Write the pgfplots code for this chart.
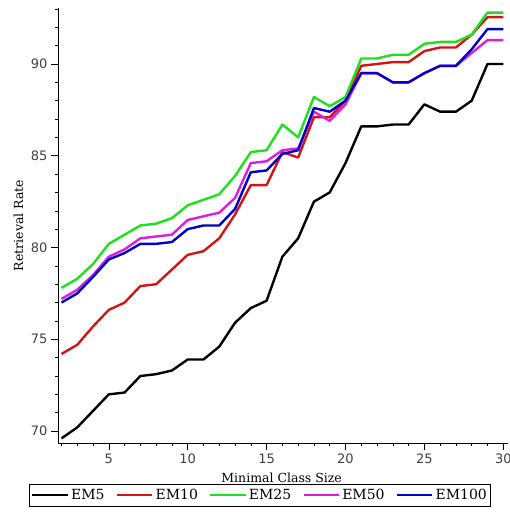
\documentclass[border=0pt]{standalone}
\usepackage{fontspec}
\setmainfont{DejaVu Serif}
\newfontfamily\ticksans{DejaVu Sans}
\usepackage{pgfplots}
\pgfplotsset{compat=1.18}
\definecolor{cBlack}{RGB}{0,0,0}
\definecolor{cRed}{RGB}{210,20,20}
\definecolor{cGreen}{RGB}{30,225,30}
\definecolor{cMag}{RGB}{220,30,220}
\definecolor{cBlue}{RGB}{0,0,200}
\begin{document}
\begin{tikzpicture}
\begin{axis}[
  scale only axis,
  width=450pt, height=435pt,
  xmin=1.78, xmax=30.3, ymin=69.35, ymax=93.05,
  axis lines=left,
  axis line style={-, line width=0.8pt},
  xtick={5,10,15,20,25,30},
  ytick={70,75,80,85,90},
  minor xtick={2,...,30},
  minor ytick={70,...,93},
  tick align=outside,
  major tick length=7pt,
  minor tick length=3pt,
  tick style={black, line width=0.6pt},
  /pgf/number format/assume math mode=true,
  tick label style={font=\ticksans\fontsize{13}{13}\selectfont, text=black!75},
  xlabel={Minimal Class Size},
  ylabel={Retrieval Rate},
  every axis x label/.style={at={(axis description cs:0.497,-0.0805)}, anchor=center, font=\fontsize{12.5}{12.5}\selectfont},
  every axis y label/.style={at={(axis description cs:-0.0878,0.5)}, rotate=90, anchor=center, font=\fontsize{12.5}{12.5}\selectfont},
  legend columns=5,
  legend style={at={(0.449,-0.094)}, anchor=north, draw=black, line width=0.8pt,
    font=\fontsize{14}{14}\selectfont, inner xsep=1.5pt, inner ysep=3pt,
    /tikz/every even column/.append style={column sep=9pt}},
  legend image post style={line width=2.4pt},
  legend image code/.code={\draw[#1] (0cm,0cm) -- (1.25cm,0cm);},
  every axis plot/.append style={line width=2.4pt, line join=round},
]
\addplot[cBlack] coordinates {
(2,69.6)(3,70.2)(4,71.1)(5,72.0)(6,72.1)(7,73.0)(8,73.1)(9,73.3)(10,73.9)(11,73.9)
(12,74.6)(13,75.9)(14,76.7)(15,77.1)(16,79.5)(17,80.5)(18,82.5)(19,83.0)(20,84.6)
(21,86.6)(22,86.6)(23,86.7)(24,86.7)(25,87.8)(26,87.4)(27,87.4)(28,88.0)(29,90.0)(30,90.0)};
\addlegendentry{EM5}
\addplot[cRed] coordinates {
(2,74.2)(3,74.7)(4,75.7)(5,76.6)(6,77.0)(7,77.9)(8,78.0)(9,78.8)(10,79.6)(11,79.8)
(12,80.5)(13,81.8)(14,83.4)(15,83.4)(16,85.2)(17,84.9)(18,87.1)(19,87.1)(20,88.0)
(21,89.9)(22,90.0)(23,90.1)(24,90.1)(25,90.7)(26,90.9)(27,90.9)(28,91.6)(29,92.55)(30,92.55)};
\addlegendentry{EM10}
\addplot[cGreen] coordinates {
(2,77.8)(3,78.3)(4,79.1)(5,80.2)(6,80.7)(7,81.2)(8,81.3)(9,81.6)(10,82.3)(11,82.6)
(12,82.9)(13,83.9)(14,85.2)(15,85.3)(16,86.7)(17,86.0)(18,88.2)(19,87.7)(20,88.2)
(21,90.3)(22,90.3)(23,90.5)(24,90.5)(25,91.1)(26,91.2)(27,91.2)(28,91.6)(29,92.8)(30,92.8)};
\addlegendentry{EM25}
\addplot[cMag] coordinates {
(2,77.2)(3,77.7)(4,78.5)(5,79.5)(6,79.9)(7,80.5)(8,80.6)(9,80.7)(10,81.5)(11,81.7)
(12,81.9)(13,82.7)(14,84.6)(15,84.7)(16,85.3)(17,85.4)(18,87.4)(19,86.9)(20,87.8)
(21,89.5)(22,89.5)(23,89.0)(24,89.0)(25,89.5)(26,89.9)(27,89.9)(28,90.6)(29,91.3)(30,91.3)};
\addlegendentry{EM50}
\addplot[cBlue] coordinates {
(2,77.0)(3,77.5)(4,78.4)(5,79.35)(6,79.7)(7,80.2)(8,80.2)(9,80.3)(10,81.0)(11,81.2)
(12,81.2)(13,82.1)(14,84.1)(15,84.2)(16,85.1)(17,85.3)(18,87.6)(19,87.4)(20,88.0)
(21,89.5)(22,89.5)(23,89.0)(24,89.0)(25,89.5)(26,89.9)(27,89.9)(28,90.8)(29,91.9)(30,91.9)};
\addlegendentry{EM100}
\end{axis}
\pgfresetboundingbox
\path[use as bounding box] (current axis.south west) ++(-58pt,-70pt) rectangle ++(510pt,513pt);
\end{tikzpicture}
\end{document}
